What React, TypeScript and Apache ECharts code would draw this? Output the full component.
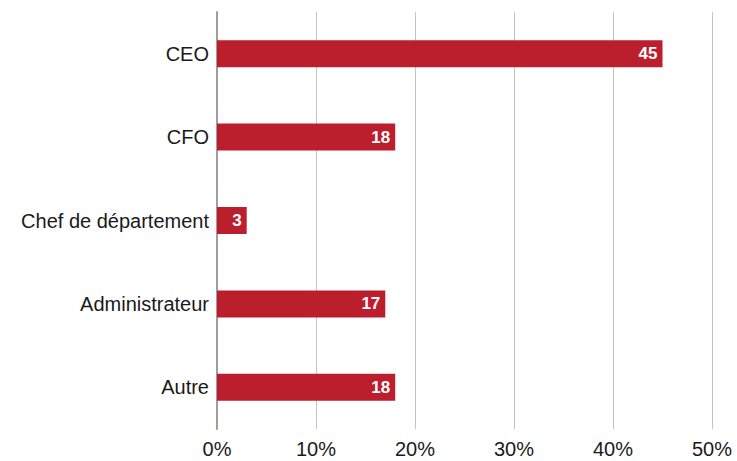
import React, { useEffect, useRef } from "react";
import * as echarts from "echarts";

const categories = ["CEO", "CFO", "Chef de département", "Administrateur", "Autre"];
const values = [45, 18, 3, 17, 18];
const xTicks = [0, 10, 20, 30, 40, 50];

export default function App() {
  const ref = useRef<HTMLDivElement>(null);
  useEffect(() => {
    if (!ref.current) return;
    const chart = echarts.init(ref.current, null, { renderer: "svg" });
    chart.setOption({
      animation: false,
      grid: { left: 217, right: 25, top: 12, bottom: 32, containLabel: false },
      xAxis: {
        type: "value",
        min: xTicks[0],
        max: xTicks[xTicks.length - 1],
        interval: 10,
        axisLine: { show: false },
        axisTick: { show: false },
        splitLine: { show: true, lineStyle: { color: "#c9c1bc", width: 1 } },
        axisLabel: {
          formatter: "{value}%",
          fontFamily: "Liberation Sans, Arial, sans-serif",
          fontSize: 20,
          color: "#1a1a1a",
          margin: 10,
        },
      },
      yAxis: {
        type: "category",
        inverse: true,
        data: categories,
        axisLine: { show: true, lineStyle: { color: "#a39c98", width: 2 } },
        axisTick: { show: false },
        axisLabel: {
          fontFamily: "Liberation Sans, Arial, sans-serif",
          fontSize: 20,
          color: "#1a1a1a",
          margin: 8,
        },
      },
      series: [
        {
          type: "bar",
          data: values,
          barWidth: 27,
          itemStyle: { color: "#bb1e2d" },
          label: {
            show: true,
            position: "insideRight",
            distance: 5,
            color: "#fff",
            fontWeight: "bold",
            fontSize: 17,
            fontFamily: "Liberation Sans, Arial, sans-serif",
          },
        },
      ],
    });
    return () => chart.dispose();
  }, []);
  return <div ref={ref} style={{ width: 737, height: 461, position: "absolute", left: 0, top: 0 }} />;
}
